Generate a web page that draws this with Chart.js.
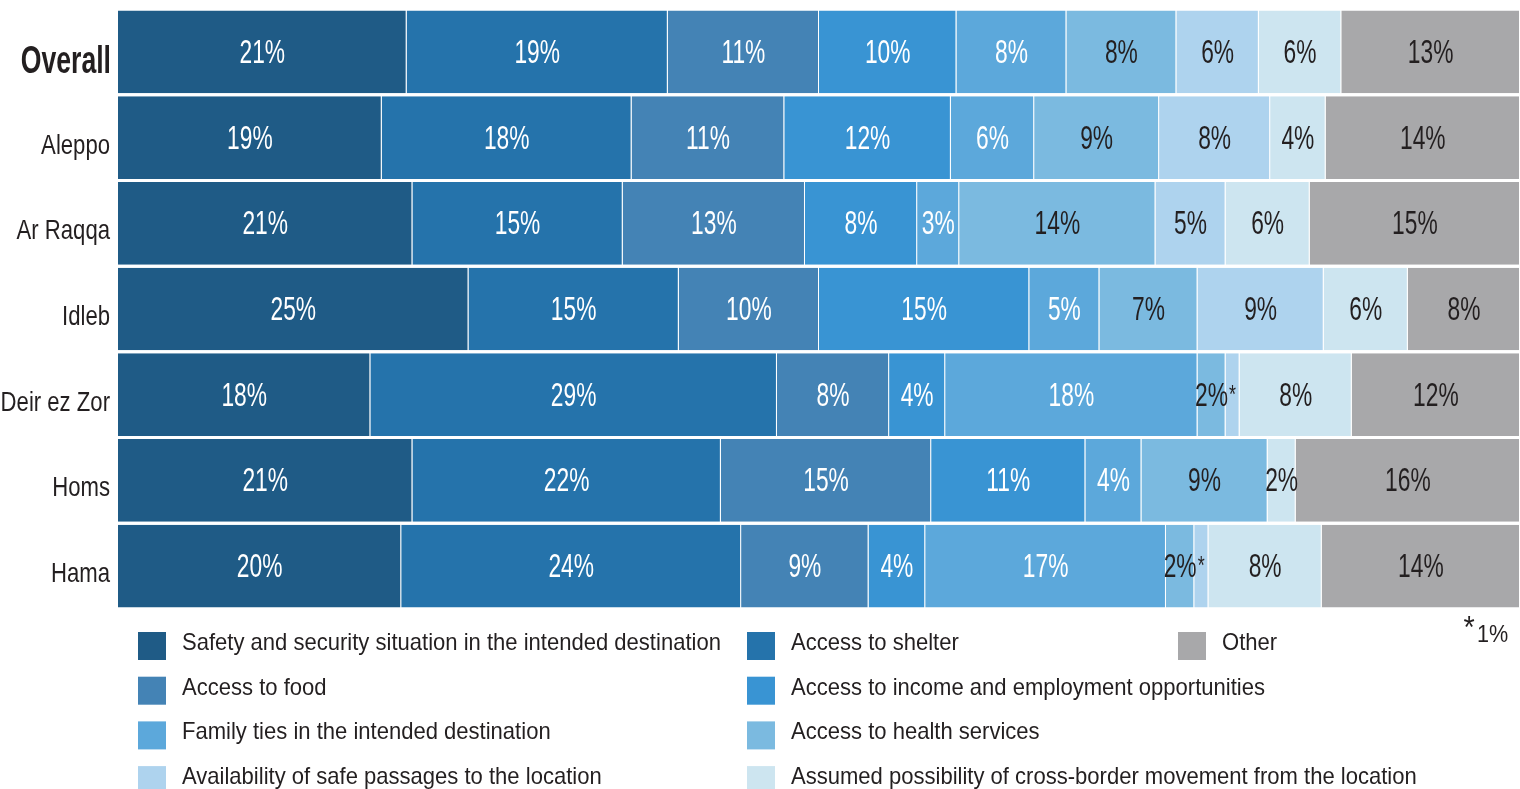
<!DOCTYPE html>
<html>
<head>
<meta charset="utf-8">
<title>Reasons for choosing destination</title>
<script src="https://cdn.jsdelivr.net/npm/chart.js@4/dist/chart.umd.min.js"></script>
<style>
    html, body {
        margin: 0;
        padding: 0;
        background: #ffffff;
        overflow: hidden;
    }
    #chart {
        display: block;
    }
</style>
</head>
<body>
<canvas id="chart" width="1520" height="789"></canvas>
<script>

// ==========================
// Data (percent of respondents)
// ==========================

const regions = ["Overall", "Aleppo", "Ar Raqqa", "Idleb", "Deir ez Zor", "Homs", "Hama"];

const safety      = [21, 19, 21, 25, 18, 21, 20];
const shelter     = [19, 18, 15, 15, 29, 22, 24];
const food        = [11, 11, 13, 10,  8, 15,  9];
const income      = [10, 12,  8, 15,  4, 11,  4];
const family      = [ 8,  6,  3,  5, 18,  4, 17];
const health      = [ 8,  9, 14,  7,  2,  9,  2];
const passages    = [ 6,  8,  5,  9,  1,  0,  1];
const crossBorder = [ 6,  4,  6,  6,  8,  2,  8];
const other       = [13, 14, 15,  8, 12, 16, 14];

const seriesNames = [
    "Safety and security situation in the intended destination",
    "Access to shelter",
    "Access to food",
    "Access to income and employment opportunities",
    "Family ties in the intended destination",
    "Access to health services",
    "Availability of safe passages to the location",
    "Assumed possibility of cross-border movement from the location",
    "Other"
];

const seriesValues = [safety, shelter, food, income, family, health, passages, crossBorder, other];

const seriesColors = [
    "#1f5b86", "#2573ab", "#4483b5", "#3994d3", "#5ca8db",
    "#7bbae0", "#aed3ee", "#cde5f0", "#a8a8aa"
];

// first five series get white labels, the rest dark
const labelColors = [
    "#ffffff", "#ffffff", "#ffffff", "#ffffff", "#ffffff",
    "#231f20", "#231f20", "#231f20", "#231f20"
];

// ==========================
// Row totals (rounded values do not always add to 100)
// ==========================

const rowTotals = regions.map((_, r) =>
    seriesValues.reduce((sum, s) => sum + s[r], 0)
);

const datasets = seriesNames.map((name, i) => ({
    label: name,
    raw: seriesValues[i],
    data: seriesValues[i].map((v, r) => v / rowTotals[r] * 100),
    backgroundColor: seriesColors[i],
    borderColor: "rgba(255,255,255,0.18)",
    borderWidth: { top: 0, right: 1, bottom: 0, left: 0 },
    borderSkipped: false,
    barPercentage: 0.965,
    categoryPercentage: 1
}));

// ==========================
// Condensed text helper
// ==========================

function drawText(ctx, text, x, y, font, color, sx, align) {
    ctx.save();
    ctx.font = font;
    ctx.fillStyle = color;
    ctx.textAlign = align;
    ctx.textBaseline = "alphabetic";
    ctx.translate(x, y);
    ctx.scale(sx, 1);
    ctx.fillText(text, 0, 0);
    ctx.restore();
}

const FONT = "'Liberation Sans', Arial, sans-serif";

// ==========================
// Segment labels
// ==========================

const segmentLabels = {
    id: "segmentLabels",
    afterDatasetsDraw(chart) {
        const ctx = chart.ctx;
        chart.data.datasets.forEach((ds, i) => {
            const meta = chart.getDatasetMeta(i);
            meta.data.forEach((bar, r) => {
                const v = ds.raw[r];
                if (!v) return;
                const cx = (bar.x + bar.base) / 2;
                if (v === 1) {
                    drawText(ctx, "*", cx, bar.y + 8, "26px " + FONT, "#231f20", 0.69, "center");
                } else {
                    drawText(ctx, v + "%", cx, bar.y + 11, "33px " + FONT, labelColors[i], 0.69, "center");
                }
            });
        });
    }
};

// ==========================
// Row labels + legend
// ==========================

const sideAndLegend = {
    id: "sideAndLegend",
    afterDraw(chart) {
        const ctx = chart.ctx;
        const yScale = chart.scales.y;

        regions.forEach((name, r) => {
            const y = yScale.getPixelForValue(r);
            if (r === 0) {
                drawText(ctx, name, 111, y + 21, "bold 38px " + FONT, "#231f20", 0.70, "right");
            } else {
                drawText(ctx, name, 110, y + 16, "28px " + FONT, "#231f20", 0.79, "right");
            }
        });

        // legend: two columns for the first eight, "Other" in a third column
        const colSquare = [138, 747, 1178];
        const rowTop = 632;
        const rowStep = 44.7;

        chart.data.datasets.forEach((ds, i) => {
            let col, row;
            if (i < 8) {
                col = i % 2;
                row = Math.floor(i / 2);
            } else {
                col = 2;
                row = 0;
            }
            const x = colSquare[col];
            const y = rowTop + row * rowStep;
            ctx.fillStyle = ds.backgroundColor;
            ctx.fillRect(x, y, 28, 28);
            drawText(ctx, ds.label, x + 44, y + 18, "24px " + FONT, "#231f20", 0.918, "left");
        });

        // footnote for the asterisks
        drawText(ctx, "*", 1469, 638, "32px " + FONT, "#231f20", 0.9, "center");
        drawText(ctx, "1%", 1477, 642, "24px " + FONT, "#231f20", 0.9, "left");
    }
};

// ==========================
// Chart
// ==========================

new Chart(document.getElementById("chart"), {
    type: "bar",
    data: {
        labels: regions,
        datasets: datasets
    },
    options: {
        indexAxis: "y",
        responsive: false,
        animation: false,
        devicePixelRatio: 1,
        layout: {
            padding: { left: 118, right: 0, top: 9, bottom: 180 }
        },
        scales: {
            x: {
                stacked: true,
                min: 0,
                max: 100,
                display: false
            },
            y: {
                stacked: true,
                display: false
            }
        },
        plugins: {
            legend: { display: false },
            tooltip: { enabled: false },
            title: { display: false }
        }
    },
    plugins: [segmentLabels, sideAndLegend]
});

</script>
</body>
</html>
